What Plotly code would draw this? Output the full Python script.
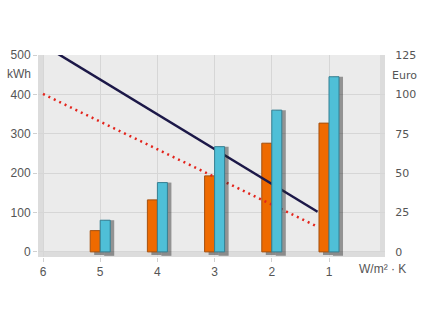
import plotly.graph_objects as go

categories = [5, 4, 3, 2, 1]
tick_vals = [6, 5, 4, 3, 2, 1]
tick_text = ["6", "5", "4", "3", "2", "1"]
kwh_values = [54, 132, 193, 276, 327]
euro_values = [20.1, 44, 66.8, 90, 111.2]
line_solid_x = [6, 1.2]
line_solid_y = [526, 102]
line_dot_x = [6, 1.2]
line_dot_y = [401, 64]

W, H = 430, 325
L, R, T, B = 38, 45, 55, 68
BW = 0.175

fig = go.Figure()

# shadows
fig.add_trace(go.Bar(x=categories, y=[v + 2.5 for v in euro_values], base=-2.5,
                     offset=-BW - 0.07, width=BW, yaxis="y2",
                     marker=dict(color="rgba(40,40,40,0.45)", line=dict(width=0)),
                     hoverinfo="skip", showlegend=False))
fig.add_trace(go.Bar(x=categories, y=[v + 8 for v in kwh_values], base=-8,
                     offset=-0.07, width=BW,
                     marker=dict(color="rgba(40,40,40,0.45)", line=dict(width=0)),
                     hoverinfo="skip", showlegend=False))
fig.add_trace(go.Bar(x=categories, y=kwh_values, offset=0, width=BW,
                     marker=dict(color="#ee6a00", line=dict(color="#a4500f", width=1)),
                     showlegend=False))
fig.add_trace(go.Bar(x=categories, y=euro_values, offset=-BW, width=BW, yaxis="y2",
                     marker=dict(color="#4fbfd7", line=dict(color="#357f92", width=1)),
                     showlegend=False))
fig.add_trace(go.Scatter(x=line_solid_x, y=line_solid_y, mode="lines",
                         line=dict(color="#1c1848", width=2.5), showlegend=False))
fig.add_trace(go.Scatter(x=line_dot_x, y=line_dot_y, mode="lines",
                         line=dict(color="#e3241c", width=2.5, dash="2px,4px"), showlegend=False))

xr = [6 + 5 / 57.2, 1 - 56 / 57.2]
yr = [-13, 500]
font = dict(family="Liberation Sans, Arial", size=12, color="#555555")
font_r = dict(family="DejaVu Sans", size=11, color="#555555")

PW, PH = W - L - R, H - T - B


def px_x(x):
    return (x - L) / PW


def px_y(y):
    return 1 - (y - T) / PH


fig.update_layout(
    width=W, height=H,
    margin=dict(l=L, r=R, t=T, b=B, pad=0),
    paper_bgcolor="white", plot_bgcolor="#ebebeb",
    barmode="overlay",
    xaxis=dict(range=xr, tickmode="array", tickvals=tick_vals, ticktext=tick_text,
               showgrid=True, gridcolor="#d6d6d6", gridwidth=1, zeroline=False,
               ticks="outside", ticklen=4, tickcolor="#d0d0d0", tickfont=font,
               showline=False, fixedrange=True),
    yaxis=dict(range=yr, tickvals=[0, 100, 200, 300, 400, 500],
               showgrid=True, gridcolor="#d6d6d6", gridwidth=1, zeroline=False,
               ticks="outside", ticklen=4, tickcolor="#d0d0d0", tickfont=font,
               showline=False),
    yaxis2=dict(range=[yr[0] / 4, 125], tickvals=[0, 25, 50, 75, 100, 125],
                overlaying="y", side="right", showgrid=False, zeroline=False,
                ticks="outside", ticklen=7, tickcolor="rgba(0,0,0,0)",
                tickfont=font_r, showline=False),
    shapes=[
        dict(type="rect", xref="paper", yref="paper", x0=0, x1=6 / PW, y0=0, y1=1,
             fillcolor="#dcdcdc", line=dict(width=0), layer="below"),
        dict(type="rect", xref="paper", yref="paper", x0=1 - 5 / PW, x1=1, y0=0, y1=1,
             fillcolor="#dcdcdc", line=dict(width=0), layer="below"),
        dict(type="rect", xref="paper", yref="paper", x0=0, x1=1, y0=0, y1=6 / PH,
             fillcolor="#dcdcdc", line=dict(width=0), layer="below"),
    ],
    annotations=[
        dict(text="kWh", xref="paper", yref="paper", x=px_x(19), y=px_y(74),
             xanchor="center", yanchor="middle", showarrow=False, font=font),
        dict(text="Euro", xref="paper", yref="paper", x=px_x(405), y=px_y(75),
             xanchor="center", yanchor="middle", showarrow=False, font=font_r),
        dict(text="W/m² · K", xref="paper", yref="paper", x=px_x(382), y=px_y(269),
             xanchor="center", yanchor="middle", showarrow=False, font=font),
    ],
)

fig.write_html("out.html")
